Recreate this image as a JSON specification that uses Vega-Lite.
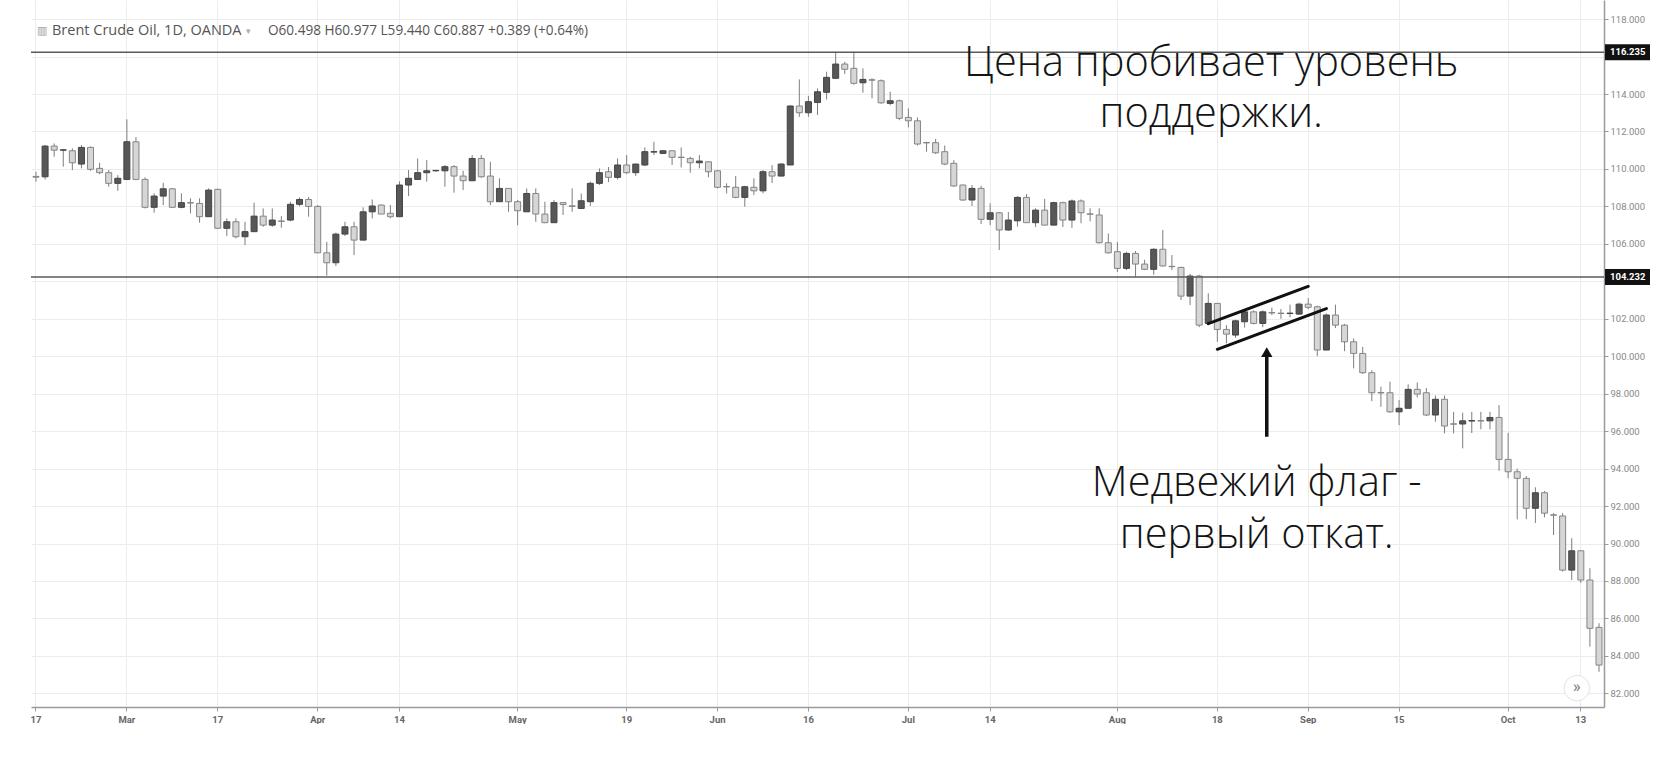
{
"$schema": "https://vega.github.io/schema/vega-lite/v6.json",
"width": 1573,
"height": 707,
"padding": {"left": 30, "top": 0, "right": 0, "bottom": 0},
"background": "white",
"config": {"view": {"stroke": null}, "font": "Roboto"},
"datasets": {
"candles": [
{"d":"2014-02-17","o":109.6,"h":109.85,"l":109.32,"c":109.56},
{"d":"2014-02-18","o":109.58,"h":111.28,"l":109.44,"c":111.22},
{"d":"2014-02-19","o":111.22,"h":111.36,"l":110.65,"c":111.0},
{"d":"2014-02-20","o":111.0,"h":111.05,"l":110.12,"c":111.02},
{"d":"2014-02-21","o":110.97,"h":111.1,"l":109.94,"c":110.33},
{"d":"2014-02-24","o":110.26,"h":111.28,"l":110.03,"c":111.15},
{"d":"2014-02-25","o":111.15,"h":111.2,"l":109.9,"c":109.98},
{"d":"2014-02-26","o":110.03,"h":110.33,"l":109.72,"c":109.8},
{"d":"2014-02-27","o":109.8,"h":109.94,"l":109.05,"c":109.23},
{"d":"2014-02-28","o":109.23,"h":109.67,"l":108.83,"c":109.5},
{"d":"2014-03-03","o":109.44,"h":112.65,"l":109.4,"c":111.45},
{"d":"2014-03-04","o":111.45,"h":111.7,"l":109.4,"c":109.44},
{"d":"2014-03-05","o":109.44,"h":109.55,"l":107.89,"c":107.95},
{"d":"2014-03-06","o":107.95,"h":108.7,"l":107.66,"c":108.55},
{"d":"2014-03-07","o":108.55,"h":109.26,"l":108.07,"c":108.94},
{"d":"2014-03-10","o":108.94,"h":108.98,"l":107.92,"c":107.95},
{"d":"2014-03-11","o":107.95,"h":108.7,"l":107.9,"c":108.2},
{"d":"2014-03-12","o":108.2,"h":108.43,"l":107.63,"c":108.18},
{"d":"2014-03-13","o":108.16,"h":108.43,"l":107.13,"c":107.45},
{"d":"2014-03-14","o":107.45,"h":108.96,"l":107.45,"c":108.87},
{"d":"2014-03-17","o":108.91,"h":108.95,"l":106.8,"c":106.83},
{"d":"2014-03-18","o":106.83,"h":107.36,"l":106.42,"c":107.18},
{"d":"2014-03-19","o":107.18,"h":107.36,"l":106.29,"c":106.38},
{"d":"2014-03-20","o":106.38,"h":107.18,"l":105.93,"c":106.65},
{"d":"2014-03-21","o":106.65,"h":108.2,"l":106.65,"c":107.48},
{"d":"2014-03-24","o":107.48,"h":107.89,"l":106.91,"c":107.0},
{"d":"2014-03-25","o":107.0,"h":107.89,"l":106.91,"c":107.27},
{"d":"2014-03-26","o":107.22,"h":107.48,"l":106.86,"c":107.2},
{"d":"2014-03-27","o":107.27,"h":108.25,"l":107.2,"c":108.11},
{"d":"2014-03-28","o":108.11,"h":108.48,"l":108.0,"c":108.37},
{"d":"2014-03-31","o":108.37,"h":108.5,"l":107.45,"c":108.0},
{"d":"2014-04-01","o":108.0,"h":108.07,"l":105.52,"c":105.52},
{"d":"2014-04-02","o":105.52,"h":106.11,"l":104.3,"c":104.99},
{"d":"2014-04-03","o":104.99,"h":106.6,"l":104.81,"c":106.52},
{"d":"2014-04-04","o":106.52,"h":107.18,"l":106.42,"c":106.91},
{"d":"2014-04-07","o":106.91,"h":107.18,"l":105.4,"c":106.2},
{"d":"2014-04-08","o":106.2,"h":107.95,"l":106.2,"c":107.71},
{"d":"2014-04-09","o":107.71,"h":108.37,"l":107.36,"c":108.02},
{"d":"2014-04-10","o":108.07,"h":108.1,"l":107.59,"c":107.59},
{"d":"2014-04-11","o":107.63,"h":108.07,"l":107.36,"c":107.45},
{"d":"2014-04-14","o":107.45,"h":109.33,"l":107.45,"c":109.14},
{"d":"2014-04-15","o":109.14,"h":109.94,"l":108.55,"c":109.5},
{"d":"2014-04-16","o":109.44,"h":110.56,"l":109.44,"c":109.8},
{"d":"2014-04-17","o":109.8,"h":110.47,"l":109.32,"c":109.9},
{"d":"2014-04-18","o":109.9,"h":109.95,"l":109.85,"c":109.92},
{"d":"2014-04-21","o":109.9,"h":110.21,"l":109.05,"c":110.12},
{"d":"2014-04-22","o":110.12,"h":110.21,"l":108.73,"c":109.62},
{"d":"2014-04-23","o":109.62,"h":109.9,"l":108.87,"c":109.37},
{"d":"2014-04-24","o":109.37,"h":110.74,"l":109.37,"c":110.56},
{"d":"2014-04-25","o":110.56,"h":110.74,"l":109.52,"c":109.58},
{"d":"2014-04-28","o":109.62,"h":110.38,"l":108.07,"c":108.25},
{"d":"2014-04-29","o":108.25,"h":109.5,"l":108.25,"c":108.96},
{"d":"2014-04-30","o":108.96,"h":108.98,"l":107.71,"c":108.25},
{"d":"2014-05-01","o":108.25,"h":108.34,"l":107.0,"c":107.77},
{"d":"2014-05-02","o":107.71,"h":108.96,"l":107.71,"c":108.69},
{"d":"2014-05-05","o":108.69,"h":108.96,"l":107.18,"c":107.59},
{"d":"2014-05-06","o":107.59,"h":108.25,"l":107.1,"c":107.13},
{"d":"2014-05-07","o":107.13,"h":108.34,"l":107.13,"c":108.2},
{"d":"2014-05-08","o":108.2,"h":108.22,"l":107.54,"c":108.1},
{"d":"2014-05-09","o":108.03,"h":108.96,"l":107.71,"c":108.0},
{"d":"2014-05-12","o":107.89,"h":108.69,"l":107.89,"c":108.3},
{"d":"2014-05-13","o":108.25,"h":109.33,"l":108.02,"c":109.23},
{"d":"2014-05-14","o":109.23,"h":110.03,"l":109.14,"c":109.8},
{"d":"2014-05-15","o":109.85,"h":110.1,"l":109.3,"c":109.55},
{"d":"2014-05-16","o":109.55,"h":110.56,"l":109.44,"c":110.21},
{"d":"2014-05-19","o":110.21,"h":110.74,"l":109.72,"c":109.8},
{"d":"2014-05-20","o":109.8,"h":110.28,"l":109.62,"c":110.26},
{"d":"2014-05-21","o":110.21,"h":111.15,"l":110.15,"c":110.92},
{"d":"2014-05-22","o":110.9,"h":111.45,"l":110.74,"c":110.92},
{"d":"2014-05-23","o":110.83,"h":111.0,"l":110.8,"c":110.97},
{"d":"2014-05-26","o":110.97,"h":110.99,"l":110.21,"c":110.62},
{"d":"2014-05-27","o":110.63,"h":111.15,"l":110.08,"c":110.61},
{"d":"2014-05-28","o":110.56,"h":110.65,"l":109.8,"c":110.33},
{"d":"2014-05-29","o":110.33,"h":110.74,"l":110.03,"c":110.42},
{"d":"2014-05-30","o":110.38,"h":110.42,"l":109.55,"c":109.85},
{"d":"2014-06-02","o":109.9,"h":109.94,"l":108.96,"c":109.02},
{"d":"2014-06-03","o":109.06,"h":109.23,"l":108.69,"c":109.04},
{"d":"2014-06-04","o":109.02,"h":109.62,"l":108.43,"c":108.48},
{"d":"2014-06-05","o":108.48,"h":109.1,"l":107.98,"c":109.05},
{"d":"2014-06-06","o":109.02,"h":109.5,"l":108.6,"c":108.83},
{"d":"2014-06-09","o":108.83,"h":109.94,"l":108.7,"c":109.85},
{"d":"2014-06-10","o":109.85,"h":110.2,"l":109.25,"c":109.62},
{"d":"2014-06-11","o":109.62,"h":110.3,"l":109.62,"c":110.26},
{"d":"2014-06-12","o":110.21,"h":113.4,"l":110.21,"c":113.36},
{"d":"2014-06-13","o":113.36,"h":114.78,"l":112.78,"c":113.0},
{"d":"2014-06-16","o":113.0,"h":113.9,"l":112.78,"c":113.59},
{"d":"2014-06-17","o":113.55,"h":114.3,"l":112.88,"c":114.12},
{"d":"2014-06-18","o":114.09,"h":115.19,"l":113.71,"c":114.89},
{"d":"2014-06-19","o":114.84,"h":116.26,"l":114.8,"c":115.6},
{"d":"2014-06-20","o":115.6,"h":115.72,"l":115.07,"c":115.32},
{"d":"2014-06-23","o":115.37,"h":116.26,"l":114.5,"c":114.57},
{"d":"2014-06-24","o":114.6,"h":115.37,"l":114.07,"c":114.78},
{"d":"2014-06-25","o":114.76,"h":114.84,"l":113.77,"c":114.74},
{"d":"2014-06-26","o":114.71,"h":114.78,"l":113.48,"c":113.53},
{"d":"2014-06-27","o":113.5,"h":114.12,"l":113.4,"c":113.64},
{"d":"2014-06-30","o":113.64,"h":113.7,"l":112.6,"c":112.7},
{"d":"2014-07-01","o":112.75,"h":113.23,"l":112.22,"c":112.57},
{"d":"2014-07-02","o":112.57,"h":112.75,"l":111.25,"c":111.33},
{"d":"2014-07-03","o":111.41,"h":111.45,"l":110.92,"c":111.39},
{"d":"2014-07-04","o":111.4,"h":111.6,"l":110.8,"c":110.86},
{"d":"2014-07-07","o":110.92,"h":111.25,"l":110.2,"c":110.26},
{"d":"2014-07-08","o":110.3,"h":110.47,"l":109.05,"c":109.09},
{"d":"2014-07-09","o":109.14,"h":109.16,"l":108.3,"c":108.34},
{"d":"2014-07-10","o":108.34,"h":109.14,"l":108.02,"c":108.96},
{"d":"2014-07-11","o":108.96,"h":109.1,"l":107.06,"c":107.31},
{"d":"2014-07-14","o":107.31,"h":108.16,"l":107.0,"c":107.66},
{"d":"2014-07-15","o":107.66,"h":107.7,"l":105.67,"c":106.74},
{"d":"2014-07-16","o":106.74,"h":107.7,"l":106.7,"c":107.27},
{"d":"2014-07-17","o":107.23,"h":108.55,"l":106.92,"c":108.48},
{"d":"2014-07-18","o":108.48,"h":108.65,"l":107.13,"c":107.13},
{"d":"2014-07-21","o":107.13,"h":107.9,"l":106.9,"c":107.8},
{"d":"2014-07-22","o":107.8,"h":108.4,"l":107.0,"c":107.0},
{"d":"2014-07-23","o":107.0,"h":108.25,"l":107.0,"c":108.2},
{"d":"2014-07-24","o":108.2,"h":108.25,"l":106.9,"c":107.27},
{"d":"2014-07-25","o":107.27,"h":108.37,"l":106.85,"c":108.29},
{"d":"2014-07-28","o":108.29,"h":108.37,"l":107.1,"c":107.66},
{"d":"2014-07-29","o":107.6,"h":107.9,"l":107.2,"c":107.58},
{"d":"2014-07-30","o":107.54,"h":107.9,"l":106.02,"c":106.06},
{"d":"2014-07-31","o":106.06,"h":106.55,"l":105.48,"c":105.52},
{"d":"2014-08-01","o":105.58,"h":106.1,"l":104.5,"c":104.69},
{"d":"2014-08-04","o":104.69,"h":105.58,"l":104.6,"c":105.49},
{"d":"2014-08-05","o":105.49,"h":105.62,"l":104.24,"c":104.92},
{"d":"2014-08-06","o":104.92,"h":105.15,"l":104.6,"c":104.64},
{"d":"2014-08-07","o":104.64,"h":105.76,"l":104.35,"c":105.71},
{"d":"2014-08-08","o":105.71,"h":106.74,"l":104.78,"c":104.82},
{"d":"2014-08-11","o":104.8,"h":105.4,"l":104.6,"c":104.78},
{"d":"2014-08-12","o":104.74,"h":104.78,"l":103.0,"c":103.21},
{"d":"2014-08-13","o":103.21,"h":104.4,"l":102.73,"c":104.28},
{"d":"2014-08-14","o":104.28,"h":104.35,"l":101.55,"c":101.66},
{"d":"2014-08-15","o":101.75,"h":103.36,"l":101.7,"c":102.82},
{"d":"2014-08-18","o":102.82,"h":102.84,"l":100.77,"c":101.43},
{"d":"2014-08-19","o":101.43,"h":101.66,"l":100.69,"c":101.18},
{"d":"2014-08-20","o":101.13,"h":101.95,"l":100.98,"c":101.89},
{"d":"2014-08-21","o":101.84,"h":102.45,"l":101.53,"c":102.37},
{"d":"2014-08-22","o":102.37,"h":102.45,"l":101.7,"c":101.75},
{"d":"2014-08-25","o":101.75,"h":102.45,"l":101.55,"c":102.37},
{"d":"2014-08-26","o":102.33,"h":102.6,"l":102.2,"c":102.31},
{"d":"2014-08-27","o":102.3,"h":102.52,"l":102.0,"c":102.28},
{"d":"2014-08-28","o":102.28,"h":102.75,"l":102.08,"c":102.3},
{"d":"2014-08-29","o":102.25,"h":102.86,"l":102.2,"c":102.78},
{"d":"2014-09-01","o":102.78,"h":103.1,"l":102.5,"c":102.61},
{"d":"2014-09-02","o":102.64,"h":102.7,"l":100.0,"c":100.33},
{"d":"2014-09-03","o":100.33,"h":102.28,"l":100.33,"c":102.2},
{"d":"2014-09-04","o":102.2,"h":102.75,"l":101.5,"c":101.66},
{"d":"2014-09-05","o":101.66,"h":101.72,"l":100.27,"c":100.77},
{"d":"2014-09-08","o":100.77,"h":100.95,"l":99.35,"c":100.15},
{"d":"2014-09-09","o":100.15,"h":100.5,"l":99.05,"c":99.12},
{"d":"2014-09-10","o":99.12,"h":99.25,"l":97.6,"c":98.05},
{"d":"2014-09-11","o":98.06,"h":98.37,"l":97.3,"c":98.04},
{"d":"2014-09-12","o":98.05,"h":98.64,"l":96.98,"c":97.03},
{"d":"2014-09-15","o":97.03,"h":97.66,"l":96.32,"c":97.22},
{"d":"2014-09-16","o":97.22,"h":98.5,"l":97.22,"c":98.23},
{"d":"2014-09-17","o":98.23,"h":98.6,"l":97.8,"c":97.98},
{"d":"2014-09-18","o":98.05,"h":98.3,"l":96.8,"c":96.86},
{"d":"2014-09-19","o":96.86,"h":97.9,"l":96.5,"c":97.7},
{"d":"2014-09-22","o":97.7,"h":97.9,"l":95.88,"c":96.27},
{"d":"2014-09-23","o":96.39,"h":97.03,"l":95.88,"c":96.37},
{"d":"2014-09-24","o":96.38,"h":96.98,"l":95.08,"c":96.55},
{"d":"2014-09-25","o":96.54,"h":97.03,"l":95.9,"c":96.56},
{"d":"2014-09-26","o":96.56,"h":97.03,"l":96.1,"c":96.54},
{"d":"2014-09-29","o":96.55,"h":97.03,"l":96.1,"c":96.73},
{"d":"2014-09-30","o":96.73,"h":97.39,"l":93.88,"c":94.49},
{"d":"2014-10-01","o":94.49,"h":95.91,"l":93.48,"c":93.83},
{"d":"2014-10-02","o":93.83,"h":94.0,"l":91.29,"c":93.48},
{"d":"2014-10-03","o":93.48,"h":93.6,"l":91.3,"c":91.88},
{"d":"2014-10-06","o":91.88,"h":93.0,"l":91.1,"c":92.71},
{"d":"2014-10-07","o":92.71,"h":92.8,"l":91.4,"c":91.62},
{"d":"2014-10-08","o":91.53,"h":91.62,"l":90.45,"c":91.51},
{"d":"2014-10-09","o":91.47,"h":91.62,"l":88.5,"c":88.58},
{"d":"2014-10-10","o":88.58,"h":90.28,"l":88.05,"c":89.61},
{"d":"2014-10-13","o":89.61,"h":89.63,"l":87.9,"c":88.05},
{"d":"2014-10-14","o":88.05,"h":88.68,"l":84.49,"c":85.47},
{"d":"2014-10-15","o":85.52,"h":85.74,"l":83.15,"c":83.51}
]
},
"layer": [
{
"data": {"name": "candles"},
"mark": {"type": "rule", "color": "#7d7d7d", "strokeWidth": 1},
"encoding": {
"x": {"field": "d", "type": "ordinal", "scale": {"type": "band", "paddingInner": 0, "paddingOuter": 0.05},
"axis": {"title": null, "values": ["2014-02-17","2014-03-03","2014-03-17","2014-04-01","2014-04-14","2014-05-01","2014-05-19","2014-06-02","2014-06-16","2014-07-01","2014-07-14","2014-08-01","2014-08-18","2014-09-01","2014-09-15","2014-10-01","2014-10-13"],
"labelExpr": "{'2014-02-17':'17','2014-03-03':'Mar','2014-03-17':'17','2014-04-01':'Apr','2014-04-14':'14','2014-05-01':'May','2014-05-19':'19','2014-06-02':'Jun','2014-06-16':'16','2014-07-01':'Jul','2014-07-14':'14','2014-08-01':'Aug','2014-08-18':'18','2014-09-01':'Sep','2014-09-15':'15','2014-10-01':'Oct','2014-10-13':'13'}[datum.value]",
"bandPosition": 0.5, "labelAngle": 0, "labelColor": "#666", "labelFontSize": 9.5, "labelFontWeight": "bold", "labelPadding": 3,
"labelOverlap": false, "labelFlush": false, "labelBound": false, "tickCount": 100,
"tickColor": "#999", "tickSize": 4, "domainColor": "#9a9a9a", "domainWidth": 1.5, "grid": true, "gridColor": "#ececec"}},
"y": {"field": "l", "type": "quantitative", "scale": {"domain": [81.27, 119.02], "nice": false, "zero": false},
"axis": {"orient": "right", "title": null, "values": [82,84,86,88,90,92,94,96,98,100,102,104,106,108,110,112,114,116,118], "format": ".3f", "tickCount": 100,
"labelExpr": "(datum.value == 116 || datum.value == 104) ? '' : datum.label",
"labelOverlap": false, "labelFlush": false, "labelBound": false,
"labelColor": "#888", "labelFontSize": 9.5, "labelPadding": 2, "tickSize": 4, "tickColor": "#999", "domainColor": "#9a9a9a", "domainWidth": 1.5, "grid": true, "gridColor": "#ececec"}},
"y2": {"field": "h"}
}
},
{
"data": {"name": "candles"},
"mark": {"type": "bar", "width": {"band": 0.66}, "strokeWidth": 1},
"encoding": {
"x": {"field": "d", "type": "ordinal"},
"y": {"field": "o", "type": "quantitative"},
"y2": {"field": "c"},
"fill": {"condition": {"test": "datum.c >= datum.o", "value": "#575757"}, "value": "#d6d6d6"},
"stroke": {"condition": {"test": "datum.c >= datum.o", "value": "#444444"}, "value": "#858585"}
}
},
{
"data": {"values": [{"lv": 116.235}, {"lv": 104.232}]},
"mark": {"type": "rule", "color": "#5a5a5a", "strokeWidth": 1.5},
"encoding": {"y": {"field": "lv", "type": "quantitative"}}
},
{
"data": {"values": [{"lv": 116.235}, {"lv": 104.232}]},
"mark": {"type": "rect", "color": "#111111", "xOffset": 1, "x2Offset": 46, "yOffset": -8, "y2Offset": 8},
"encoding": {
"x": {"value": "width"}, "x2": {"value": "width"},
"y": {"field": "lv", "type": "quantitative"}, "y2": {"field": "lv"}
}
},
{
"data": {"values": [{"lv": 116.235, "t": "116.235"}, {"lv": 104.232, "t": "104.232"}]},
"mark": {"type": "text", "color": "white", "fontSize": 9.5, "fontWeight": "bold", "align": "left", "baseline": "middle", "dx": 6},
"encoding": {
"x": {"value": "width"},
"y": {"field": "lv", "type": "quantitative"},
"text": {"field": "t"}
}
},
{
"data": {"values": [
{"x1": "2014-08-15", "x2": "2014-09-01", "y1": 101.74, "y2": 103.73},
{"x1": "2014-08-18", "x2": "2014-09-03", "y1": 100.37, "y2": 102.54}
]},
"mark": {"type": "rule", "color": "#111111", "strokeWidth": 3, "strokeCap": "round"},
"encoding": {
"x": {"field": "x1", "type": "ordinal"}, "x2": {"field": "x2"},
"y": {"field": "y1", "type": "quantitative"}, "y2": {"field": "y2"}
}
},
{
"data": {"values": [{"d": "2014-08-25", "y1": 95.7, "y2": 100.05}]},
"mark": {"type": "rule", "color": "#111111", "strokeWidth": 3.5, "xOffset": 4},
"encoding": {
"x": {"field": "d", "type": "ordinal"},
"y": {"field": "y1", "type": "quantitative"}, "y2": {"field": "y2"}
}
},
{
"data": {"values": [{"d": "2014-08-25", "v": 100.22}]},
"mark": {"type": "point", "shape": "triangle-up", "size": 130, "filled": true, "color": "#111111", "opacity": 1, "xOffset": 4},
"encoding": {
"x": {"field": "d", "type": "ordinal"},
"y": {"field": "v", "type": "quantitative"}
}
},
{
"data": {"values": [
{"d": "2014-08-15", "v": 115.6, "t": "Цена пробивает уровень"},
{"d": "2014-08-15", "v": 112.88, "t": "поддержки."},
{"d": "2014-08-22", "v": 93.17, "t": "Медвежий флаг -"},
{"d": "2014-08-22", "v": 90.4, "t": "первый откат."}
]},
"mark": {"type": "text", "font": "Open Sans", "fontSize": 41.5, "fontWeight": 300, "color": "#141414", "align": "center", "baseline": "middle", "dx": 3},
"encoding": {
"x": {"field": "d", "type": "ordinal"},
"y": {"field": "v", "type": "quantitative"},
"text": {"field": "t"}
}
},
{
"data": {"values": [{"d": "2014-02-17", "v": 117.36, "t": "Brent Crude Oil, 1D, OANDA"}]},
"mark": {"type": "text", "font": "Open Sans", "fontSize": 14.5, "color": "#555555", "align": "left", "baseline": "middle", "dx": 16},
"encoding": {
"x": {"field": "d", "type": "ordinal"},
"y": {"field": "v", "type": "quantitative"},
"text": {"field": "t"}
}
},
{
"data": {"values": [{"d": "2014-02-17", "v": 117.36, "t": "▾"}]},
"mark": {"type": "text", "font": "DejaVu Sans", "fontSize": 9, "color": "#aaaaaa", "align": "left", "baseline": "middle", "dx": 210},
"encoding": {
"x": {"field": "d", "type": "ordinal"},
"y": {"field": "v", "type": "quantitative"},
"text": {"field": "t"}
}
},
{
"data": {"values": [{"d": "2014-02-17", "v": 117.36, "t": "O60.498  H60.977  L59.440  C60.887  +0.389 (+0.64%)"}]},
"mark": {"type": "text", "font": "Open Sans", "fontSize": 13.6, "color": "#555555", "align": "left", "baseline": "middle", "dx": 232},
"encoding": {
"x": {"field": "d", "type": "ordinal"},
"y": {"field": "v", "type": "quantitative"},
"text": {"field": "t"}
}
},
{
"data": {"values": [{"d": "2014-02-17", "v": 117.36, "t": "▥"}]},
"mark": {"type": "text", "font": "DejaVu Sans", "fontSize": 11, "color": "#999999", "align": "left", "baseline": "middle", "dx": 1},
"encoding": {
"x": {"field": "d", "type": "ordinal"},
"y": {"field": "v", "type": "quantitative"},
"text": {"field": "t"}
}
},
{
"data": {"values": [{"d": "2014-10-13", "v": 82.28}]},
"mark": {"type": "point", "shape": "circle", "size": 650, "filled": true, "fill": "white", "stroke": "#e3e3e3", "strokeWidth": 1, "opacity": 1, "xOffset": -4},
"encoding": {
"x": {"field": "d", "type": "ordinal"},
"y": {"field": "v", "type": "quantitative"}
}
},
{
"data": {"values": [{"d": "2014-10-13", "v": 82.28, "t": "»"}]},
"mark": {"type": "text", "fontSize": 17, "color": "#777777", "align": "center", "baseline": "middle", "xOffset": -4, "dy": -1},
"encoding": {
"x": {"field": "d", "type": "ordinal"},
"y": {"field": "v", "type": "quantitative"},
"text": {"field": "t"}
}
}
]
}
